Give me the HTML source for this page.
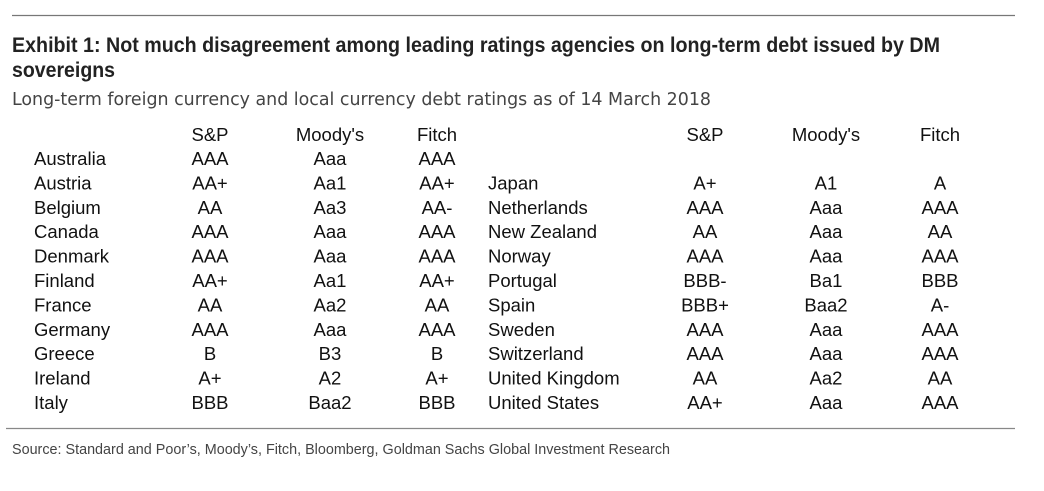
<!DOCTYPE html>
<html><head><meta charset="utf-8"><style>
html,body{margin:0;padding:0;background:#fff;}
svg{display:block;font-family:"Liberation Sans",Arial,sans-serif;}
</style></head><body>
<svg id="chart" width="1044" height="491" viewBox="0 0 1044 491">
<line x1="12" y1="15.5" x2="1015" y2="15.5" stroke="#777" stroke-width="1.2"/>
<text x="12" y="52" font-size="21" font-weight="bold" fill="#222" textLength="928" lengthAdjust="spacingAndGlyphs">Exhibit 1: Not much disagreement among leading ratings agencies on long-term debt issued by DM</text>
<text x="12" y="77" font-size="21" font-weight="bold" fill="#222" textLength="103" lengthAdjust="spacingAndGlyphs">sovereigns</text>
<text x="12" y="105" font-size="18" fill="#444" font-family="DejaVu Sans,sans-serif" textLength="699" lengthAdjust="spacingAndGlyphs">Long-term foreign currency and local currency debt ratings as of 14 March 2018</text>
<g id="table" font-size="18.5" fill="#111"></g>
<line x1="6" y1="428.5" x2="1015" y2="428.5" stroke="#888" stroke-width="1.2"/>
<text x="12" y="454" font-size="15" fill="#444" textLength="658" lengthAdjust="spacingAndGlyphs">Source: Standard and Poor’s, Moody’s, Fitch, Bloomberg, Goldman Sachs Global Investment Research</text>
</svg>
<script>
const headers = ["S&P","Moody's","Fitch"];
const leftCountries = ["Australia","Austria","Belgium","Canada","Denmark","Finland","France","Germany","Greece","Ireland","Italy"];
const leftSP = ["AAA","AA+","AA","AAA","AAA","AA+","AA","AAA","B","A+","BBB"];
const leftMoodys = ["Aaa","Aa1","Aa3","Aaa","Aaa","Aa1","Aa2","Aaa","B3","A2","Baa2"];
const leftFitch = ["AAA","AA+","AA-","AAA","AAA","AA+","AA","AAA","B","A+","BBB"];
const rightCountries = ["Japan","Netherlands","New Zealand","Norway","Portugal","Spain","Sweden","Switzerland","United Kingdom","United States"];
const rightSP = ["A+","AAA","AA","AAA","BBB-","BBB+","AAA","AAA","AA","AA+"];
const rightMoodys = ["A1","Aaa","Aaa","Aaa","Ba1","Baa2","Aaa","Aaa","Aa2","Aaa"];
const rightFitch = ["A","AAA","AA","AAA","BBB","A-","AAA","AAA","AA","AAA"];

const g = document.getElementById('table');
const NS = "http://www.w3.org/2000/svg";
const headerY = 141, row0Y = 165, rowH = 24.4;
function rowY(i){ return row0Y + i*rowH; }
function txt(x,y,s,anchor,name){
  const t = document.createElementNS(NS,'text');
  t.setAttribute('x',x); t.setAttribute('y',y);
  t.setAttribute('text-anchor',anchor);
  t.textContent = s;
  
  
  g.appendChild(t);
}
const leftCols = [210,330,437], rightCols = [705,826,940];
headers.forEach((h,i)=>{
  txt(leftCols[i],headerY,h,'middle','left-header-'+i);
  txt(rightCols[i],headerY,h,'middle','right-header-'+i);
});
leftCountries.forEach((c,i)=>{
  const y = rowY(i);
  txt(34,y,c,'start','left-country');
  txt(leftCols[0],y,leftSP[i],'middle','left-sp-rating');
  txt(leftCols[1],y,leftMoodys[i],'middle','left-moodys-rating');
  txt(leftCols[2],y,leftFitch[i],'middle','left-fitch-rating');
});
rightCountries.forEach((c,i)=>{
  const y = rowY(i+1);
  txt(488,y,c,'start','right-country');
  txt(rightCols[0],y,rightSP[i],'middle','right-sp-rating');
  txt(rightCols[1],y,rightMoodys[i],'middle','right-moodys-rating');
  txt(rightCols[2],y,rightFitch[i],'middle','right-fitch-rating');
});
</script>
</body></html>
